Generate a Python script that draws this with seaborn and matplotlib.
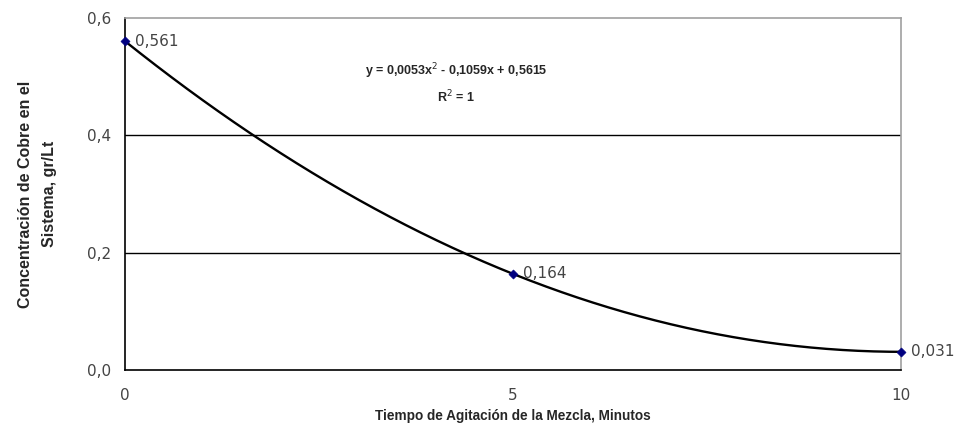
import numpy as np
import matplotlib
matplotlib.use('Agg')
import matplotlib.pyplot as plt
import seaborn as sns

# Datos
tiempo = [0, 5, 10]
concentracion = [0.561, 0.164, 0.031]
etiquetas = ['0,561', '0,164', '0,031']
x_ticks = [0, 5, 10]
y_ticks = [0.0, 0.2, 0.4, 0.6]
y_tick_labels = ['0,0', '0,2', '0,4', '0,6']

sns.set_style('white')
plt.rcParams['font.family'] = ['Liberation Sans', 'DejaVu Sans']

fig = plt.figure(figsize=(9.6, 4.32), dpi=100)
ax = fig.add_axes([0.130, 0.1435, 0.8085, 0.8145])

# Línea de tendencia polinómica (orden 2) ajustada a los puntos
coef = np.polyfit(tiempo, concentracion, 2)
xs = np.linspace(min(tiempo), max(tiempo), 200)
ys = np.polyval(coef, xs)
sns.lineplot(x=xs, y=ys, ax=ax, color='black', linewidth=1.7)

sns.scatterplot(x=tiempo, y=concentracion, ax=ax, marker='D', s=22,
                color='#000080', edgecolor='#000080', zorder=5, clip_on=False)

num_font = ['DejaVu Sans']
for xv, yv, lab in zip(tiempo, concentracion, etiquetas):
    ax.annotate(lab, (xv, yv), xytext=(7, 0), textcoords='offset points',
                va='center', ha='left', fontsize=11, color='#444444',
                family=num_font, annotation_clip=False)

ax.text(0.427, 0.85, 'y = 0,0053x$^{2}$ - 0,1059x + 0,5615', transform=ax.transAxes,
        ha='center', va='center', fontsize=9, fontweight='bold')
ax.text(0.427, 0.775, 'R$^{2}$ = 1', transform=ax.transAxes,
        ha='center', va='center', fontsize=9, fontweight='bold')

ax.set_xlim(0, 10)
ax.set_ylim(0, 0.6)
ax.set_xticks(x_ticks)
ax.set_xticklabels([str(t) for t in x_ticks], family=num_font)
ax.set_yticks(y_ticks)
ax.set_yticklabels(y_tick_labels, family=num_font)

for yv in y_ticks[1:3]:
    ax.axhline(yv, color='black', linewidth=1, zorder=1)

ax.spines['left'].set_color('black')
ax.spines['bottom'].set_color('black')
ax.spines['top'].set_color('#a0a0a0')
ax.spines['right'].set_color('#a0a0a0')
for s in ax.spines.values():
    s.set_linewidth(1.2)

ax.tick_params(axis='both', direction='out', length=4, width=1, color='black',
               labelsize=11, labelcolor='#444444', pad=6)
ax.tick_params(axis='x', pad=9)

ax.set_xlabel('Tiempo de Agitación de la Mezcla, Minutos', fontsize=9.8,
              fontweight='bold', labelpad=4)
ax.set_ylabel('Concentración de Cobre en el\nSistema, gr/Lt', fontsize=11.5,
              fontweight='bold', labelpad=21, linespacing=1.75)

fig.savefig('out.png', dpi=100)
